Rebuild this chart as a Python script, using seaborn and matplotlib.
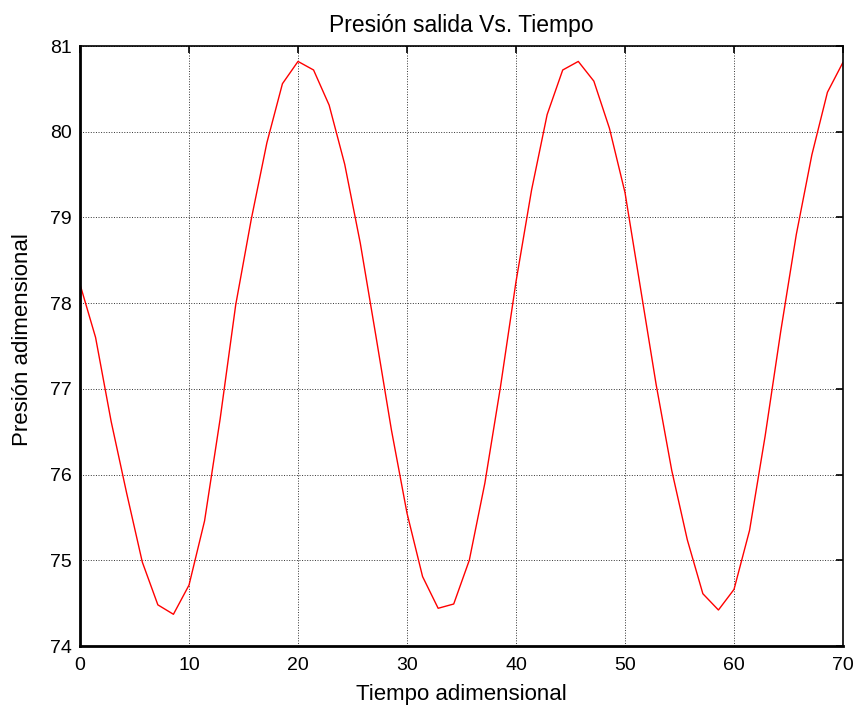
import numpy as np
import pandas as pd
import matplotlib
matplotlib.use("Agg")
import matplotlib.pyplot as plt
import seaborn as sns

# Data (50 samples over 0..70)
tiempo = list(np.linspace(0, 70, 50))
presion = [78.22, 77.60, 76.62, 75.78, 74.98, 74.48, 74.37, 74.71, 75.46, 76.65,
           77.98, 78.98, 79.87, 80.56, 80.82, 80.72, 80.31, 79.62, 78.70, 77.62,
           76.52, 75.55, 74.81, 74.44, 74.49, 75.00, 75.90, 77.02, 78.25, 79.32,
           80.20, 80.72, 80.82, 80.59, 80.04, 79.29, 78.17, 77.05, 76.05, 75.24,
           74.61, 74.42, 74.66, 75.35, 76.45, 77.67, 78.80, 79.73, 80.46, 80.81]
x_ticks = [0, 10, 20, 30, 40, 50, 60, 70]
y_ticks = [74, 75, 76, 77, 78, 79, 80, 81]

titulo = "Presión salida Vs. Tiempo"
xlabel = "Tiempo adimensional"
ylabel = "Presión adimensional"

sns.set_style("white")
plt.rcParams['font.family'] = ['Liberation Sans', 'DejaVu Sans']
plt.rcParams['text.color'] = 'black'
plt.rcParams['axes.labelcolor'] = 'black'

df = pd.DataFrame({"t": tiempo, "p": presion})

fig = plt.figure(figsize=(8.59, 7.13), dpi=100)
ax = fig.add_axes([80/859, 1 - 646/713, (843-80)/859, (646-46)/713])
sns.lineplot(data=df, x="t", y="p", ax=ax, color="#ff0000", linewidth=1.0)

ax.set_xlim(0, 70)
ax.set_ylim(74, 81)
ax.set_xticks(x_ticks)
ax.set_yticks(y_ticks)
ax.tick_params(direction="in", top=True, right=True, length=5, width=1.2,
               labelsize=14, colors="black", labelcolor="black")
ax.tick_params(axis="x", pad=8)
ax.tick_params(axis="y", pad=6)
ax.grid(True, linestyle=":", color="#333333", linewidth=0.7)
for s in ax.spines.values():
    s.set_color("black")
    s.set_linewidth(1.2)
ax.spines["left"].set_linewidth(2)
ax.spines["bottom"].set_linewidth(2)

ax.set_title(titulo, fontsize=16.5, pad=10, color="black")
ax.set_xlabel(xlabel, fontsize=16, labelpad=7, color="black")
ax.set_ylabel(ylabel, fontsize=16, color="black")
ax.yaxis.set_label_coords(-0.061, 0.51)

fig.savefig("out.png", dpi=100)
